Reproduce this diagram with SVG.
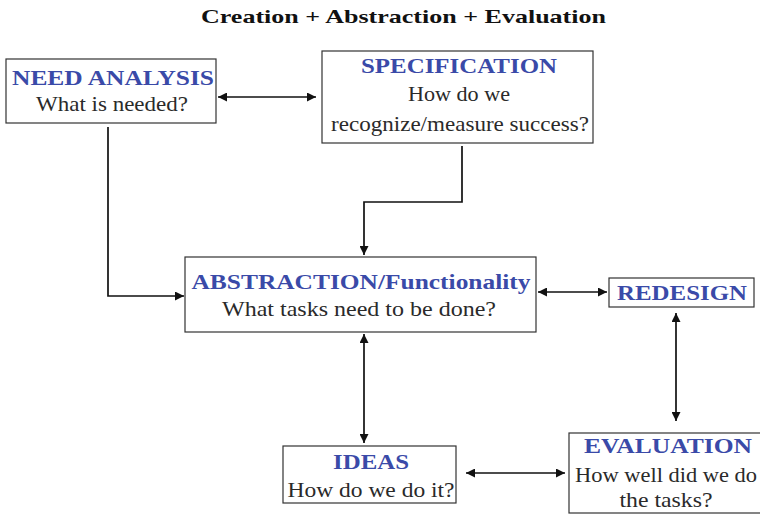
<svg xmlns="http://www.w3.org/2000/svg" width="760" height="514" viewBox="0 0 760 514">
<style>
.box{fill:#fff;stroke:#333;stroke-width:1.2}
.h{font-family:"Liberation Serif","DejaVu Serif",serif;font-weight:bold;fill:#3a4aa8;font-size:22px;text-anchor:middle}
.t{font-family:"Liberation Serif","DejaVu Serif",serif;fill:#2a2a2a;font-size:21px;text-anchor:middle}
.c{fill:none;stroke:#111;stroke-width:1.7}
</style>
<defs>
<marker id="a" viewBox="0 0 10 10" refX="10" refY="5" markerWidth="10" markerHeight="9" markerUnits="userSpaceOnUse" orient="auto-start-reverse">
<path d="M0,0 L10,5 L0,10 z" fill="#111"/>
</marker>
</defs>
<text x="403.5" y="23" font-family="Liberation Serif, DejaVu Serif, serif" font-weight="bold" font-size="19" fill="#111" text-anchor="middle" textLength="405" lengthAdjust="spacingAndGlyphs">Creation + Abstraction + Evaluation</text>
<g id="connectors">
<line class="c" x1="218" y1="97" x2="316" y2="97" marker-start="url(#a)" marker-end="url(#a)"/>
<polyline class="c" points="108,127 108,296 184,296" marker-end="url(#a)"/>
<polyline class="c" points="462,146 462,202 364,202 364,255" marker-end="url(#a)"/>
<line class="c" x1="538" y1="292" x2="607" y2="292" marker-start="url(#a)" marker-end="url(#a)"/>
<line class="c" x1="676" y1="313" x2="676" y2="421" marker-start="url(#a)" marker-end="url(#a)"/>
<line class="c" x1="364" y1="334" x2="364" y2="443" marker-start="url(#a)" marker-end="url(#a)"/>
<line class="c" x1="466" y1="473" x2="565" y2="473" marker-start="url(#a)" marker-end="url(#a)"/>
</g>
<g id="need">
<rect class="box" x="6" y="59" width="210" height="64"/>
<text class="h" x="113" y="85" textLength="202" lengthAdjust="spacingAndGlyphs">NEED ANALYSIS</text>
<text class="t" x="112" y="111" textLength="152" lengthAdjust="spacingAndGlyphs">What is needed?</text>
</g>
<g id="spec">
<rect class="box" x="322" y="51" width="271" height="92"/>
<text class="h" x="459" y="73" textLength="196" lengthAdjust="spacingAndGlyphs">SPECIFICATION</text>
<text class="t" x="459" y="101" textLength="102" lengthAdjust="spacingAndGlyphs">How do we</text>
<text class="t" x="460" y="131" textLength="258" lengthAdjust="spacingAndGlyphs">recognize/measure success?</text>
</g>
<g id="abstraction">
<rect class="box" x="185" y="257" width="351" height="75"/>
<text class="h" x="361" y="289" textLength="339" lengthAdjust="spacingAndGlyphs">ABSTRACTION/Functionality</text>
<text class="t" x="359" y="316" textLength="274" lengthAdjust="spacingAndGlyphs">What tasks need to be done?</text>
</g>
<g id="redesign">
<rect class="box" x="609" y="278" width="145" height="29"/>
<text class="h" x="682" y="300" textLength="130" lengthAdjust="spacingAndGlyphs">REDESIGN</text>
</g>
<g id="ideas">
<rect class="box" x="283" y="446" width="173" height="57"/>
<text class="h" x="371" y="469" textLength="76" lengthAdjust="spacingAndGlyphs">IDEAS</text>
<text class="t" x="371" y="497" textLength="167" lengthAdjust="spacingAndGlyphs">How do we do it?</text>
</g>
<g id="evaluation">
<rect class="box" x="569" y="433" width="192" height="80"/>
<text class="h" x="668" y="453" textLength="168" lengthAdjust="spacingAndGlyphs">EVALUATION</text>
<text class="t" x="666" y="482" textLength="182" lengthAdjust="spacingAndGlyphs">How well did we do</text>
<text class="t" x="666" y="507" textLength="93" lengthAdjust="spacingAndGlyphs">the tasks?</text>
</g>
</svg>
